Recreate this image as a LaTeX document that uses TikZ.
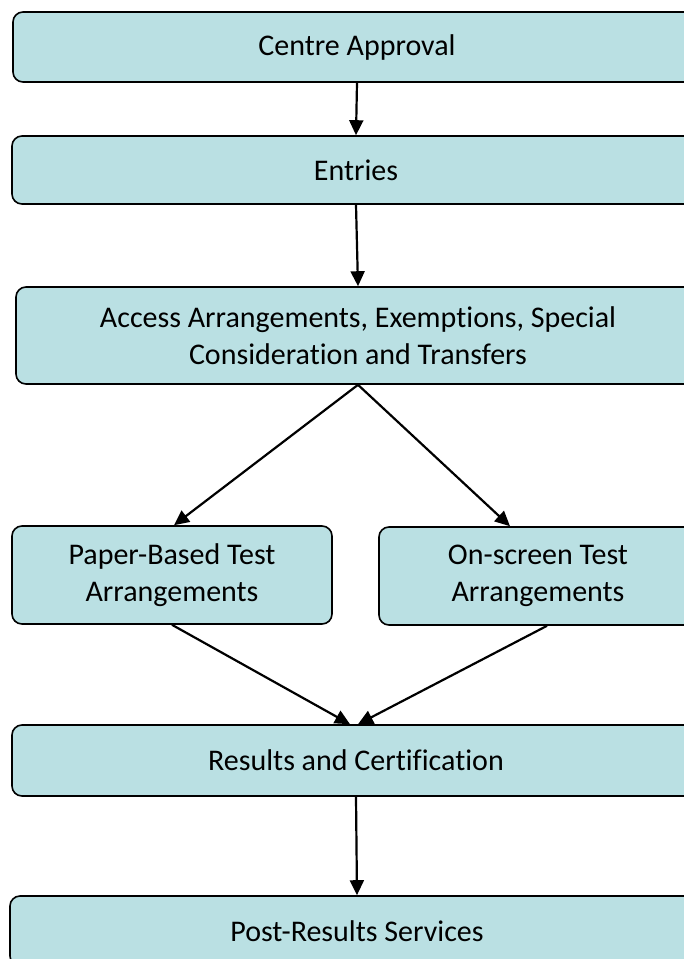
\documentclass[tikz,border=0pt]{standalone}
\usepackage{fontspec}
\setmainfont{Carlito}[Ligatures=NoCommon]
\usetikzlibrary{arrows.meta}
\definecolor{boxfill}{RGB}{186,224,227}
\tikzset{
  box/.style={draw=black, line width=1.6pt, fill=boxfill, rounded corners=10pt,
    align=center, inner sep=0pt, font=\fontsize{30}{37}\selectfont},
  arr/.style={line width=2.2pt, -{Triangle[length=15pt,width=14pt]}}
}
\begin{document}
\begin{tikzpicture}[x=1pt,y=-1pt]
\useasboundingbox (0,0) rectangle (684,959);
\clip (0,0) rectangle (684,959);
\node[box, minimum width=688pt, minimum height=70pt] (a) at (357,47) {Centre Approval};
\node[box, minimum width=688pt, minimum height=68pt] (b) at (356,170) {Entries};
\node[box, minimum width=684pt, minimum height=97pt] (c) at (358,335.5) {Access Arrangements, Exemptions, Special\\Consideration and Transfers};
\node[box, minimum width=320pt, minimum height=98pt] (d) at (172,575) {Paper-Based Test\\Arrangements};
\node[box, minimum width=318pt, minimum height=98pt] (e) at (538,576) {On-screen Test\\Arrangements};
\node[box, minimum width=688pt, minimum height=71pt] (f) at (356,760.5) {Results and Certification};
\node[box, minimum width=694pt, minimum height=70pt] (g) at (357,931) {Post-Results Services};
\draw[arr] (a.south) -- (b.north);
\draw[arr] (b.south) -- (c.north);
\draw[arr] (c.south) -- ([xshift=2pt]d.north);
\draw[arr] (c.south) -- ([xshift=-28pt]e.north);
\draw[arr] (d.south) -- ([xshift=-6pt]f.north);
\draw[arr] ([xshift=9pt]e.south) -- ([xshift=2pt]f.north);
\draw[arr] (f.south) -- (g.north);
\end{tikzpicture}
\end{document}
